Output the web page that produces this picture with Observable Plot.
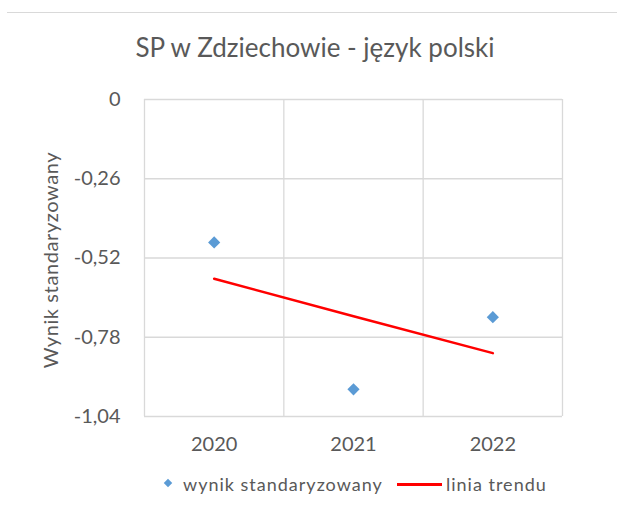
<!DOCTYPE html>
<html><head><meta charset="utf-8">
<script src="https://cdn.jsdelivr.net/npm/d3@7"></script>
<script src="https://cdn.jsdelivr.net/npm/@observablehq/plot@0.6"></script>
<style>
body{margin:0;background:#fff;}
#wrap{position:relative;width:617px;height:519px;overflow:hidden;font-family:Lato,sans-serif;color:#595959;background:#fff;}
#rule{position:absolute;left:7px;right:0;top:12px;border-top:1px solid #d9d9d9;}
#title{position:absolute;left:0;width:630px;top:32px;text-align:center;font-size:26px;line-height:30px;white-space:nowrap;}
#chart{position:absolute;left:0;top:80px;}
#ylab{position:absolute;left:50px;top:260px;width:0;height:0;}
#ylab span{position:absolute;left:0;top:0;transform:translate(-50%,-50%) rotate(-90deg);white-space:nowrap;font-size:20px;line-height:22px;letter-spacing:0.6px;}
#legend{position:absolute;left:0;top:472px;width:617px;height:24px;font-size:18px;line-height:24px;white-space:nowrap;letter-spacing:1px;}
.it{position:absolute;top:0;}
.dia{position:absolute;width:6px;height:6px;background:#5b9bd5;transform:rotate(45deg);}
.ln{position:absolute;width:45px;height:2.5px;background:#ff0000;}
</style>
</head><body>
<div id="wrap">
  <div id="rule"></div>
  <div id="title"></div>
  <div id="ylab"><span></span></div>
  <div id="chart"></div>
  <div id="legend"></div>
</div>
<script>
const chartTitle = "SP w Zdziechowie - język polski";
const yLabel = "Wynik standaryzowany";
const years = [2020, 2021, 2022];
const scores = [-0.469, -0.951, -0.714];
const trend = [-0.588, -0.711, -0.832];
const yTicks = [0, -0.26, -0.52, -0.78, -1.04];
const seriesNames = ["wynik standaryzowany", "linia trendu"];

document.getElementById("title").textContent = chartTitle;
document.querySelector("#ylab span").textContent = yLabel;

const pts = years.map((y, i) => ({year: y, v: scores[i]}));
const tr = years.map((y, i) => ({year: y, v: trend[i]}));
const bounds = d3.range(years[0] - 0.5, years[years.length - 1] + 1, 1);

const chart = Plot.plot({
  width: 617, height: 385,
  marginLeft: 144, marginRight: 55, marginTop: 19, marginBottom: 49,
  style: {fontFamily: "Lato, sans-serif", fontSize: "20px", color: "#595959", background: "transparent", overflow: "visible"},
  x: {domain: [years[0] - 0.5, years[years.length - 1] + 0.5], ticks: years, tickFormat: d => String(d), tickSize: 0, tickPadding: 20, label: null},
  y: {domain: [yTicks[yTicks.length - 1], yTicks[0]], ticks: yTicks, tickFormat: d => d === 0 ? "0" : d.toFixed(2).replace(".", ","), tickSize: 0, tickPadding: 24, label: null},
  marks: [
    Plot.ruleY(yTicks, {stroke: "#d9d9d9", strokeWidth: 1.3}),
    Plot.ruleX(bounds, {stroke: "#d9d9d9", strokeWidth: 1.3}),
    Plot.line(tr, {x: "year", y: "v", stroke: "#ff0000", strokeWidth: 2.5}),
    Plot.dot(pts, {x: "year", y: "v", symbol: "diamond2", r: 5.5, fill: "#5b9bd5", stroke: "none"})
  ]
});
document.getElementById("chart").appendChild(chart);

const lg = document.getElementById("legend");
lg.innerHTML = `<span class="dia" style="left:165px;top:8px"></span><span class="it" style="left:183px">${seriesNames[0]}</span>` +
  `<span class="ln" style="left:397px;top:11px"></span><span class="it" style="left:446px">${seriesNames[1]}</span>`;
</script>
</body></html>
